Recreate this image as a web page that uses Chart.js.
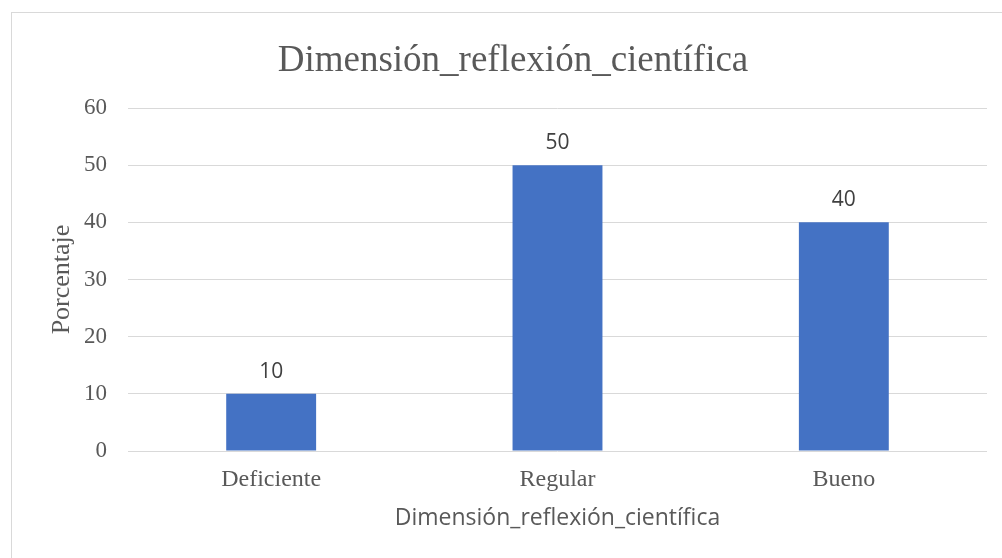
<!DOCTYPE html>
<html>
<head>
<meta charset="utf-8">
<script src="https://cdn.jsdelivr.net/npm/chart.js@4"></script>
<style>
  body { margin: 0; background: #fff; }
  #wrap { position: relative; width: 1002px; height: 558px; overflow: hidden; }
  #frame { position: absolute; left: 11px; top: 12px; width: 1000px; height: 560px; border: 1px solid #d9d9d9; }
  #chart { position: absolute; left: 0; top: 0; }
</style>
</head>
<body>
<div id="wrap">
  <div id="frame"></div>
  <canvas id="chart" width="1002" height="558"></canvas>
</div>
<script>
var categories = ["Deficiente", "Regular", "Bueno"];
var porcentajes = [10, 50, 40];
var yTicks = [0, 10, 20, 30, 40, 50, 60];

var textGray = "#595959";
var serif = "'Liberation Serif', 'Times New Roman', serif";
var sans = "'Open Sans', 'Noto Sans', sans-serif";

// etiquetas de datos encima de cada barra
var barLabels = {
    id: "barLabels",
    afterDatasetsDraw: function(chart) {
        var ctx = chart.ctx;
        var meta = chart.getDatasetMeta(0);
        ctx.save();
        ctx.font = "21px " + sans;
        ctx.fillStyle = "#404040";
        ctx.textAlign = "center";
        ctx.textBaseline = "middle";
        meta.data.forEach(function(bar, i) {
            ctx.fillText(String(chart.data.datasets[0].data[i]), bar.x, bar.y - 22);
        });
        ctx.restore();
    }
};

new Chart(document.getElementById("chart").getContext("2d"), {
    type: "bar",
    data: {
        labels: categories,
        datasets: [{
            label: "Porcentaje",
            data: porcentajes,
            backgroundColor: "#4472C4",
            categoryPercentage: 1,
            barPercentage: 0.314
        }]
    },
    plugins: [barLabels],
    options: {
        responsive: false,
        animation: false,
        layout: { padding: { left: 39, right: 15, top: 0, bottom: 0 } },
        plugins: {
            legend: { display: false },
            tooltip: { enabled: false },
            title: {
                display: true,
                text: "Dimensión_reflexión_científica",
                color: textGray,
                font: { family: serif, size: 37, weight: "normal" },
                padding: { top: 39, bottom: 24.6 }
            }
        },
        scales: {
            y: {
                min: 0,
                max: 60,
                afterBuildTicks: function(scale) {
                    scale.ticks = yTicks.map(function(v) { return { value: v }; });
                },
                afterFit: function(scale) { scale.width = 89; },
                ticks: { color: textGray, font: { family: serif, size: 23 }, padding: 21 },
                grid: { color: "#d9d9d9", drawTicks: false },
                border: { display: false },
                title: {
                    display: true,
                    text: "Porcentaje",
                    color: textGray,
                    font: { family: serif, size: 26 },
                    padding: { top: 7.4, bottom: 0 }
                }
            },
            x: {
                afterFit: function(scale) { scale.height = 107; },
                ticks: { color: textGray, font: { family: serif, size: 24 }, padding: 14 },
                grid: { display: false, drawTicks: false },
                border: { display: false },
                title: {
                    display: true,
                    text: "Dimensión_reflexión_científica",
                    color: textGray,
                    font: { family: sans, size: 23 },
                    padding: { top: 0, bottom: 26 }
                }
            }
        }
    }
});
</script>
</body>
</html>
